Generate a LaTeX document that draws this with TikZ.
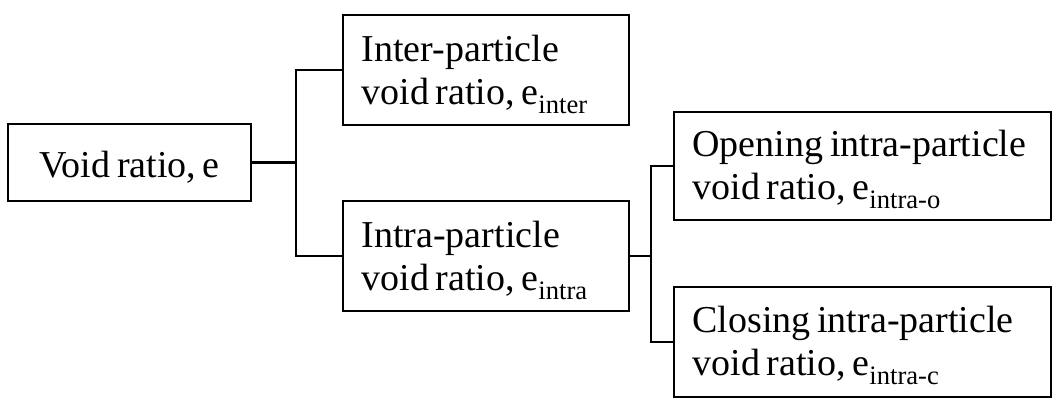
\documentclass[tikz,border=0pt]{standalone}
\usepackage{fontspec}
\setmainfont{Liberation Serif}[WordSpace=0.7]
\newcommand\twolines[2]{\begin{tabular}[c]{@{}l@{}}#1\\#2\end{tabular}}
\begin{document}
\begin{tikzpicture}[x=1pt,y=-1pt,
  box/.style={draw, line width=1.3pt, inner sep=0pt},
  txt/.style={inner sep=0pt, font=\fontsize{38}{43}\selectfont},
  conn/.style={line width=1.5pt},
  stem/.style={line width=2.4pt}]
\useasboundingbox (0,0) rectangle (1057,405);
\node[box, minimum width=243pt, minimum height=77pt] (void) at (129.5,162.5) {};
\node[box, minimum width=286pt, minimum height=110pt] (inter) at (486,70) {};
\node[box, minimum width=286pt, minimum height=110pt] (intra) at (486,256) {};
\node[box, minimum width=377pt, minimum height=108pt] (open) at (862.5,166) {};
\node[box, minimum width=377pt, minimum height=110pt] (close) at (862.5,342) {};
\node[txt] (tvoid) at ([yshift=-5pt]void.center) {Void ratio, e};
\node[txt, anchor=west] (tinter) at ([xshift=19pt,yshift=-4pt]inter.west) {\twolines{Inter-particle}{void ratio, e\textsubscript{inter}}};
\node[txt, anchor=west] (tintra) at ([xshift=19pt,yshift=-4pt]intra.west) {\twolines{Intra-particle}{void ratio, e\textsubscript{intra}}};
\node[txt, anchor=west] (topen) at ([xshift=19pt,yshift=-3pt]open.west) {\twolines{Opening intra-particle}{void ratio, e\textsubscript{intra-o}}};
\node[txt, anchor=west] (tclose) at ([xshift=19pt,yshift=-3pt]close.west) {\twolines{Closing intra-particle}{void ratio, e\textsubscript{intra-c}}};
\coordinate (j1) at (296,162.5);
\coordinate (j2) at (651,256);
\draw[stem] (void.east) -- (j1);
\draw[conn] (inter.west) -| (j1);
\draw[conn] (intra.west) -| (j1);
\draw[stem] (intra.east) -- (j2);
\draw[conn] (open.west) -| (j2);
\draw[conn] (close.west) -| (j2);
\end{tikzpicture}
\end{document}
